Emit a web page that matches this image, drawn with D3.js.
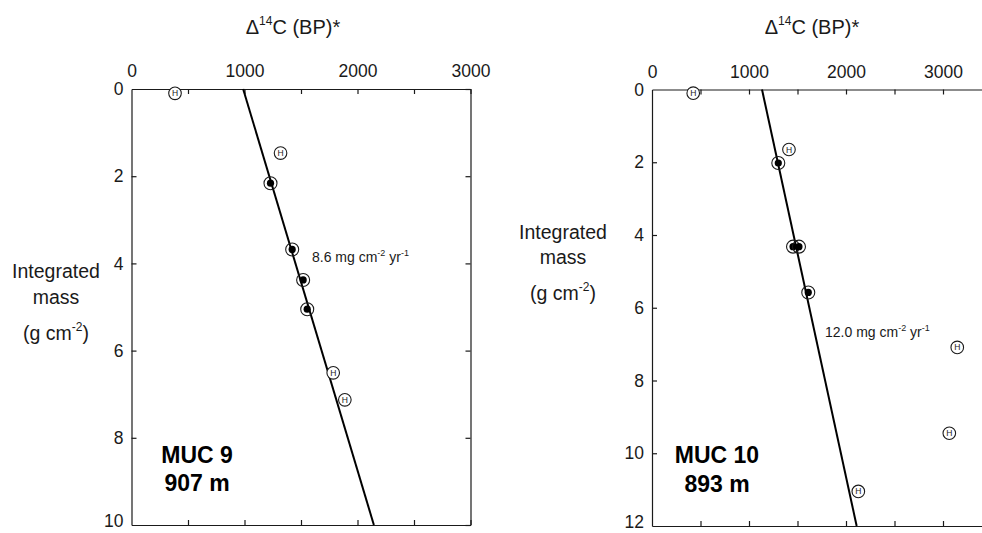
<!DOCTYPE html>
<html>
<head>
<meta charset="utf-8">
<script src="https://cdn.jsdelivr.net/npm/d3@7"></script>
<style>
  html, body { margin: 0; padding: 0; background: #fff; }
  svg { display: block; font-family: "Liberation Sans", Arial, sans-serif; }
</style>
</head>
<body>
<svg id="chart" width="982" height="533"></svg>
<script>
// ---------- DATA ----------
// MUC 9 (907 m)
const muc9FilledAge  = [1230, 1422, 1519, 1555];
const muc9FilledMass = [2.16, 3.68, 4.38, 5.05];
const muc9HAge       = [385, 1319, 1785, 1888];
const muc9HMass      = [0.1, 1.47, 6.51, 7.13];
const muc9LineAge    = [988, 2145];
const muc9LineMass   = [0, 10];
const muc9Rate       = "8.6";

// MUC 10 (893 m)
const muc10FilledAge  = [1302, 1454, 1515, 1611];
const muc10FilledMass = [2.02, 4.32, 4.32, 5.58];
const muc10HAge       = [425, 1412, 3147, 3065, 2127];
const muc10HMass      = [0.1, 1.65, 7.09, 9.45, 11.05];
const muc10LineAge    = [1134, 2110];
const muc10LineMass   = [0, 12];
const muc10Rate       = "12.0";

const xTickValues   = [0, 500, 1000, 1500, 2000, 2500, 3000];
const xTickLabels   = ["0", "", "1000", "", "2000", "", "3000"];
const yTicks9       = [0, 2, 4, 6, 8, 10];
const yTicks10      = [0, 2, 4, 6, 8, 10, 12];

// ---------- LAYOUT ----------
const panels = [
  {
    name: "MUC 9", depth: "907 m",
    xDomain: [0, 3000], xRange: [131.5, 470.5],
    yDomain: [0, 10], yRange: [89, 525], yTicks: yTicks9,
    rightBorder: true,
    filledAge: muc9FilledAge, filledMass: muc9FilledMass,
    hAge: muc9HAge, hMass: muc9HMass,
    lineAge: muc9LineAge, lineMass: muc9LineMass,
    rate: muc9Rate, ratePos: [312, 262],
    titleX: 293, ylabX: 56, ylabY: [278, 304, 340],
    labelX: 197, labelY: [463, 491]
  },
  {
    name: "MUC 10", depth: "893 m",
    xDomain: [0, 3400], xRange: [652, 981.8],
    yDomain: [0, 12], yRange: [89.5, 526], yTicks: yTicks10,
    rightBorder: false,
    filledAge: muc10FilledAge, filledMass: muc10FilledMass,
    hAge: muc10HAge, hMass: muc10HMass,
    lineAge: muc10LineAge, lineMass: muc10LineMass,
    rate: muc10Rate, ratePos: [825, 337],
    titleX: 812, ylabX: 563, ylabY: [239, 264, 300],
    labelX: 717, labelY: [463, 492]
  }
];

const svg = d3.select("#chart");
const ink = "#1a1a1a";
const tickFont = 17.5;

panels.forEach(p => {
  const x = d3.scaleLinear().domain(p.xDomain).range(p.xRange);
  const y = d3.scaleLinear().domain(p.yDomain).range(p.yRange);
  const g = svg.append("g");

  const fmtX = d => xTickLabels[xTickValues.indexOf(d)] ?? "";
  const xt = xTickValues.filter(v => v <= p.xDomain[1]);

  // top axis
  const top = g.append("g").attr("transform", `translate(0,${p.yRange[0]})`)
    .call(d3.axisTop(x).tickValues(xt).tickFormat(fmtX).tickSize(-5).tickSizeOuter(0).tickPadding(12));
  // bottom axis (no labels)
  const bot = g.append("g").attr("transform", `translate(0,${p.yRange[1]})`)
    .call(d3.axisBottom(x).tickValues(xt).tickFormat("").tickSize(-5).tickSizeOuter(0));
  // left axis
  const left = g.append("g").attr("transform", `translate(${p.xRange[0]},0)`)
    .call(d3.axisLeft(y).tickValues(p.yTicks).tickFormat(d3.format("d")).tickSize(-5).tickSizeOuter(0).tickPadding(8));
  const axes = [top, bot, left];
  if (p.rightBorder) {
    const right = g.append("g").attr("transform", `translate(${p.xRange[1]},0)`)
      .call(d3.axisRight(y).tickValues(p.yTicks).tickFormat("").tickSize(-5).tickSizeOuter(0));
    axes.push(right);
  }
  axes.forEach(a => {
    a.select(".domain").attr("stroke", ink).attr("stroke-width", 1.2);
    a.selectAll(".tick line").attr("stroke", ink).attr("stroke-width", 1.2);
    a.selectAll(".tick text").attr("fill", ink).attr("font-size", tickFont)
      .attr("font-family", "Liberation Sans, Arial, sans-serif");
  });
  // keep the lowest y label inside the picture
  left.selectAll(".tick text").filter(d => d === p.yDomain[1])
    .attr("dy", "0.1em");
  // hide end ticks that coincide with the frame corners
  [top, bot].forEach(a => a.selectAll(".tick line").filter(d => d === 0).remove());
  left.selectAll(".tick line").filter(d => d === p.yDomain[0] || d === p.yDomain[1]).remove();

  // title
  const t = g.append("text").attr("x", p.titleX).attr("y", 34)
    .attr("text-anchor", "middle").attr("font-size", 20).attr("fill", ink);
  t.append("tspan").text("\u0394");
  t.append("tspan").attr("font-size", 12).attr("dy", -9).text("14");
  t.append("tspan").attr("dy", 9).text("C (BP)*");

  // y axis label
  const yl = g.append("g").attr("font-size", 19.5).attr("fill", ink).attr("text-anchor", "middle");
  yl.append("text").attr("x", p.ylabX).attr("y", p.ylabY[0]).text("Integrated");
  yl.append("text").attr("x", p.ylabX).attr("y", p.ylabY[1]).text("mass");
  const u = yl.append("text").attr("x", p.ylabX).attr("y", p.ylabY[2]);
  u.append("tspan").text("(g cm");
  u.append("tspan").attr("font-size", 12).attr("dy", -9).text("-2");
  u.append("tspan").attr("dy", 9).text(")");

  // regression line
  const lineData = p.lineAge.map((a, i) => [a, p.lineMass[i]]);
  g.append("path").datum(lineData)
    .attr("d", d3.line().x(d => x(d[0])).y(d => y(d[1])))
    .attr("stroke", "#000").attr("stroke-width", 2).attr("fill", "none");

  // rate annotation
  const r = g.append("text").attr("x", p.ratePos[0]).attr("y", p.ratePos[1])
    .attr("font-size", 14).attr("fill", ink);
  r.append("tspan").text(p.rate + " mg cm");
  r.append("tspan").attr("font-size", 9).attr("dy", -6).text("-2");
  r.append("tspan").attr("dy", 6).text(" yr");
  r.append("tspan").attr("font-size", 9).attr("dy", -6).text("-1");

  // H markers (open)
  const hData = p.hAge.map((a, i) => [a, p.hMass[i]]);
  const hg = g.selectAll(".hm").data(hData).enter().append("g")
    .attr("transform", d => `translate(${x(d[0])},${y(d[1])})`);
  hg.append("circle").attr("r", 6.3).attr("fill", "#fff").attr("stroke", ink).attr("stroke-width", 1.1);
  hg.append("text").attr("text-anchor", "middle").attr("dy", "0.35em")
    .attr("font-size", 8.5).attr("fill", ink).text("H");

  // filled markers
  const fData = p.filledAge.map((a, i) => [a, p.filledMass[i]]);
  const fg = g.selectAll(".fm").data(fData).enter().append("g")
    .attr("transform", d => `translate(${x(d[0])},${y(d[1])})`);
  fg.append("circle").attr("r", 6.5).attr("fill", "none").attr("stroke", ink).attr("stroke-width", 1.1);
  fg.append("circle").attr("r", 3.6).attr("fill", "#000");

  // core label
  const lab = g.append("g").attr("font-size", 23).attr("font-weight", "bold")
    .attr("fill", "#000").attr("text-anchor", "middle");
  lab.append("text").attr("x", p.labelX).attr("y", p.labelY[0]).text(p.name);
  lab.append("text").attr("x", p.labelX).attr("y", p.labelY[1]).text(p.depth);
});
</script>
</body>
</html>
